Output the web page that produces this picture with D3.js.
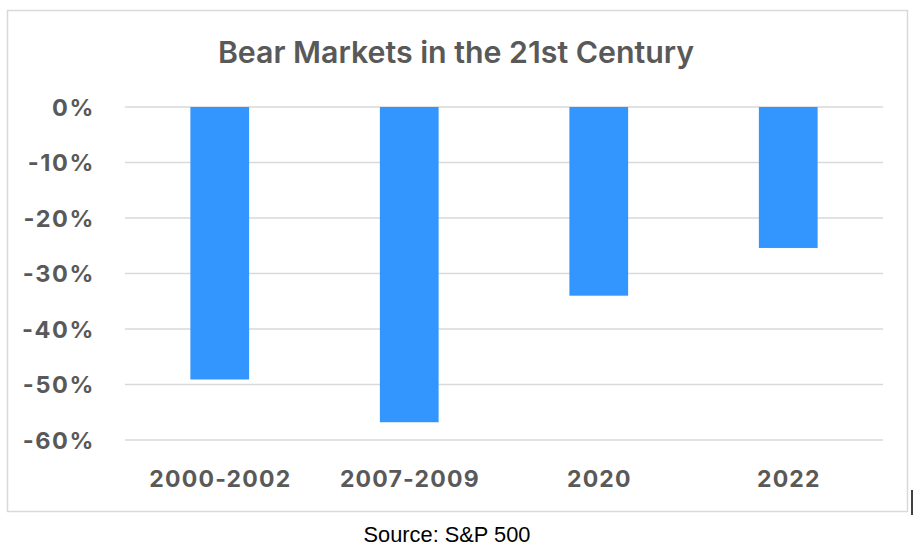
<!DOCTYPE html>
<html><head><meta charset="utf-8">
<script src="https://cdn.jsdelivr.net/npm/d3@7"></script>
<style>html,body{margin:0;padding:0;background:#fff;}svg{display:block;}</style>
</head><body>
<svg id="c" width="913" height="553"></svg>
<script>
const categories = ["2000-2002", "2007-2009", "2020", "2022"];
const values = [-49.1, -56.8, -34.0, -25.4];
const yTicks = [0, -10, -20, -30, -40, -50, -60];
const title = "Bear Markets in the 21st Century";
const source = "Source: S&P 500";

const svg = d3.select("#c");
const textColor = "#595959";

// outer frame
svg.append("rect").attr("x", 7.5).attr("y", 10.5).attr("width", 900).attr("height", 501)
  .attr("fill", "#fff").attr("stroke", "#d9d9d9").attr("stroke-width", 1.5);

const x = d3.scaleBand().domain(categories).range([125, 883]).padding(0);
const y = d3.scaleLinear().domain([-60, 0]).range([440, 107]);

// gridlines
svg.append("g").selectAll("line").data(yTicks).join("line")
  .attr("x1", 125).attr("x2", 883)
  .attr("y1", d => y(d)).attr("y2", d => y(d))
  .attr("stroke", "#d9d9d9").attr("stroke-width", 1.5);

// y axis labels
const yAxis = d3.axisLeft(y).tickValues(yTicks).tickSize(0).tickPadding(0)
  .tickFormat(d => d + "%");
const gy = svg.append("g").attr("transform", "translate(95,0)").call(yAxis);
gy.select(".domain").remove();
gy.selectAll("text").attr("fill", textColor).attr("font-family", "Inter, sans-serif")
  .attr("font-weight", 700).attr("font-size", 23.5).attr("letter-spacing", 1.6).attr("dy", "0.36em");

// bars
const bw = x.bandwidth() * 0.31;
svg.append("g").selectAll("rect").data(values).join("rect")
  .attr("x", (d, i) => x(categories[i]) + x.bandwidth() / 2 - bw / 2)
  .attr("width", bw)
  .attr("y", d => y(0))
  .attr("height", d => y(d) - y(0))
  .attr("fill", "#3396ff");

// x axis labels
const xAxis = d3.axisBottom(x).tickSize(0).tickPadding(0);
const gx = svg.append("g").attr("transform", "translate(0.6,487)").call(xAxis);
gx.select(".domain").remove();
gx.selectAll("text").attr("fill", textColor).attr("font-family", "Inter, sans-serif")
  .attr("font-weight", 700).attr("font-size", 23).attr("letter-spacing", 1.2).attr("dy", 0);

// title
svg.append("text").attr("x", 456).attr("y", 63).attr("text-anchor", "middle")
  .attr("font-family", "Inter, sans-serif").attr("font-weight", 600)
  .attr("font-size", 30.3).attr("fill", textColor).text(title);

// source
svg.append("text").attr("x", 447).attr("y", 542).attr("text-anchor", "middle")
  .attr("font-family", "'Liberation Sans', Arial, sans-serif")
  .attr("font-size", 21.8).attr("fill", "#000").text(source);

// small black mark at right edge
svg.append("line").attr("x1", 912).attr("x2", 912).attr("y1", 490).attr("y2", 515)
  .attr("stroke", "#000").attr("stroke-width", 1.5);
</script>
</body></html>
